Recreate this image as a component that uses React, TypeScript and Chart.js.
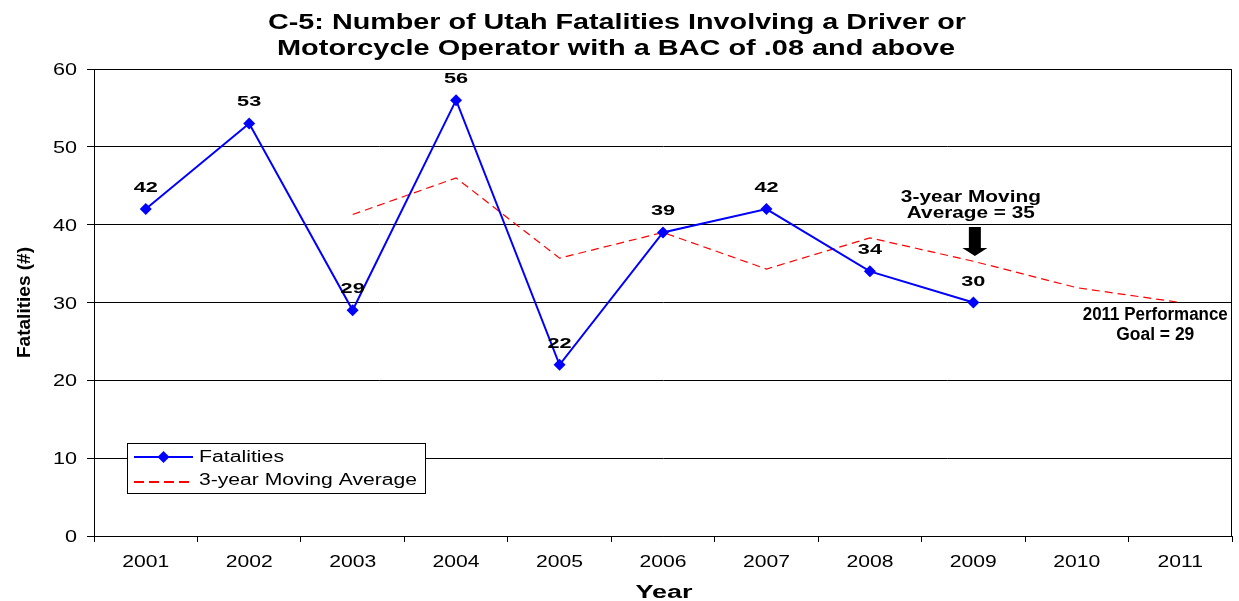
import React, { useEffect, useRef } from "react";
import { Chart, registerables } from "chart.js";

Chart.register(...registerables);

const years = ["2001", "2002", "2003", "2004", "2005", "2006", "2007", "2008", "2009", "2010", "2011"];
const fatalities: (number | null)[] = [42, 53, 29, 56, 22, 39, 42, 34, 30, null, null];
const movingAverage: (number | null)[] = [null, null, 41.3, 46, 35.7, 39, 34.3, 38.3, 35.3, 31.9, 30];
const yTicks = [0, 10, 20, 30, 40, 50, 60];
const titleLines = [
  "C-5: Number of Utah Fatalities Involving a Driver or",
  "Motorcycle Operator with a BAC of .08 and above",
];
const avgNoteLines = ["3-year Moving", "Average = 35"];
const goalNoteLines = ["2011 Performance", "Goal = 29"];
const legendLabels = ["Fatalities", "3-year Moving Average"];
const xTitle = "Year";
const yTitle = "Fatalities (#)";

const FONT = "'Liberation Sans', Arial, Helvetica, sans-serif";
const BLUE = "#0000FF";
const RED = "#FF0000";

function fitText(
  ctx: CanvasRenderingContext2D,
  s: string,
  x: number,
  y: number,
  size: number,
  bold: boolean,
  width: number | null,
  sx: number,
  align: CanvasTextAlign = "center"
) {
  ctx.save();
  ctx.font = `${bold ? "bold " : ""}${size}px ${FONT}`;
  const w = ctx.measureText(s).width;
  const k = width != null ? width / w : sx;
  ctx.translate(x, y);
  ctx.scale(k, 1);
  ctx.textAlign = align;
  ctx.textBaseline = "alphabetic";
  ctx.fillText(s, 0, 0);
  ctx.restore();
}

const decorPlugin = {
  id: "decor",
  afterDraw(chart: any) {
    const ctx = chart.ctx as CanvasRenderingContext2D;
    const { left, right, top, bottom } = chart.chartArea;
    const xs = chart.scales.x;
    const ys = chart.scales.y;
    ctx.save();
    // plot frame right + top
    ctx.strokeStyle = "#000";
    ctx.lineWidth = 1;
    ctx.beginPath();
    ctx.moveTo(left, top + 0.5);
    ctx.lineTo(right - 0.5, top + 0.5);
    ctx.lineTo(right - 0.5, bottom);
    ctx.stroke();

    ctx.fillStyle = "#000";
    // title
    fitText(ctx, titleLines[0], 617, 29, 22, true, 698, 1);
    fitText(ctx, titleLines[1], 616, 55, 22, true, 678, 1);

    // tick labels
    yTicks.forEach((v) => {
      fitText(ctx, String(v), left - 17, ys.getPixelForValue(v) + 6, 16, false, null, 1.35, "right");
    });
    years.forEach((y, i) => {
      fitText(ctx, y, xs.getPixelForValue(i), bottom + 30.5, 16, false, null, 1.32, "center");
    });

    // axis titles
    fitText(ctx, xTitle, (left + right) / 2 + 1, bottom + 61.5, 18, true, 57, 1);
    ctx.save();
    ctx.translate(30, (top + bottom) / 2);
    ctx.rotate(-Math.PI / 2);
    fitText(ctx, yTitle, 0, 0, 18.5, true, 111, 1);
    ctx.restore();

    // data labels
    const meta = chart.getDatasetMeta(0);
    meta.data.forEach((pt: any, i: number) => {
      const v = fatalities[i];
      if (v == null) return;
      fitText(ctx, String(v), pt.x, pt.y - 17, 15.5, true, null, 1.4, "center");
    });

    // moving-average note with arrow
    const ax = xs.getPixelForValue(8) + 1.5;
    fitText(ctx, avgNoteLines[0], ax - 4, ys.getPixelForValue(42.95), 17, true, 140, 1);
    fitText(ctx, avgNoteLines[1], ax - 4, ys.getPixelForValue(40.9), 17, true, 128, 1);
    const shaftTop = ys.getPixelForValue(39.7);
    const headTop = ys.getPixelForValue(37.0);
    const tip = ys.getPixelForValue(35.98);
    ctx.beginPath();
    ctx.moveTo(ax - 6, shaftTop);
    ctx.lineTo(ax + 6, shaftTop);
    ctx.lineTo(ax + 6, headTop);
    ctx.lineTo(ax + 12.5, headTop);
    ctx.lineTo(ax, tip);
    ctx.lineTo(ax - 12.5, headTop);
    ctx.lineTo(ax - 6, headTop);
    ctx.closePath();
    ctx.fill();

    // goal note
    const gx = xs.getPixelForValue(10) - 25;
    fitText(ctx, goalNoteLines[0], gx, ys.getPixelForValue(27.75), 18, true, 145, 1);
    fitText(ctx, goalNoteLines[1], gx, ys.getPixelForValue(25.2), 18, true, 78, 1);

    // legend
    const lx = left + 33;
    const ly = ys.getPixelForValue(11.95);
    const lw = 298;
    const lh = 50;
    ctx.fillStyle = "#fff";
    ctx.fillRect(lx, ly, lw, lh);
    ctx.strokeStyle = "#000";
    ctx.lineWidth = 1;
    ctx.strokeRect(lx + 0.5, ly + 0.5, lw, lh);
    const r1 = ly + 14;
    const r2 = ly + 39;
    ctx.strokeStyle = BLUE;
    ctx.lineWidth = 2;
    ctx.beginPath();
    ctx.moveTo(lx + 7, r1);
    ctx.lineTo(lx + 66, r1);
    ctx.stroke();
    ctx.fillStyle = BLUE;
    ctx.beginPath();
    ctx.moveTo(lx + 36.5, r1 - 6);
    ctx.lineTo(lx + 42.5, r1);
    ctx.lineTo(lx + 36.5, r1 + 6);
    ctx.lineTo(lx + 30.5, r1);
    ctx.closePath();
    ctx.fill();
    ctx.strokeStyle = RED;
    ctx.lineWidth = 2;
    ctx.setLineDash([10, 5]);
    ctx.beginPath();
    ctx.moveTo(lx + 7, r2);
    ctx.lineTo(lx + 66, r2);
    ctx.stroke();
    ctx.setLineDash([]);
    ctx.fillStyle = "#000";
    fitText(ctx, legendLabels[0], lx + 72, ly + 19, 16, false, 85, 1, "left");
    fitText(ctx, legendLabels[1], lx + 72, ly + 42.5, 16, false, 218, 1, "left");
    ctx.restore();
  },
};

export default function App() {
  const ref = useRef<HTMLCanvasElement | null>(null);
  useEffect(() => {
    document.body.style.margin = "0";
    const canvas = ref.current;
    if (!canvas) return;
    const chart = new Chart(canvas, {
      type: "line",
      data: {
        labels: years,
        datasets: [
          {
            label: legendLabels[0],
            data: fatalities,
            borderColor: BLUE,
            backgroundColor: BLUE,
            borderWidth: 2,
            pointStyle: "rectRot",
            pointRadius: 6,
            pointBorderWidth: 0,
            pointBackgroundColor: BLUE,
            tension: 0,
            spanGaps: false,
          },
          {
            label: legendLabels[1],
            data: movingAverage,
            borderColor: RED,
            borderWidth: 1.2,
            borderDash: [8, 5],
            pointRadius: 0,
            tension: 0,
          },
        ],
      },
      options: {
        responsive: false,
        animation: false,
        layout: { padding: { left: 0, top: 69, right: 7, bottom: 0 } },
        plugins: {
          legend: { display: false },
          title: { display: false },
          tooltip: { enabled: false },
        },
        scales: {
          x: {
            type: "category",
            offset: true,
            grid: {
              offset: true,
              drawOnChartArea: false,
              drawTicks: true,
              tickLength: 6,
              color: "#000",
            },
            border: { color: "#000", width: 1 },
            ticks: { display: false },
            afterFit: (s: any) => {
              s.height = 65;
            },
          },
          y: {
            min: 0,
            max: 60,
            afterBuildTicks: (s: any) => {
              s.ticks = yTicks.map((v) => ({ value: v }));
            },
            grid: { color: "#000", tickLength: 7, lineWidth: 1 },
            border: { color: "#000", width: 1 },
            ticks: { display: false },
            afterFit: (s: any) => {
              s.width = 94;
            },
          },
        },
      },
      plugins: [decorPlugin],
    });
    return () => chart.destroy();
  }, []);
  return (
    <div style={{ width: 1239, height: 601, background: "#fff" }}>
      <canvas ref={ref} width={1239} height={601} style={{ display: "block" }} />
    </div>
  );
}
